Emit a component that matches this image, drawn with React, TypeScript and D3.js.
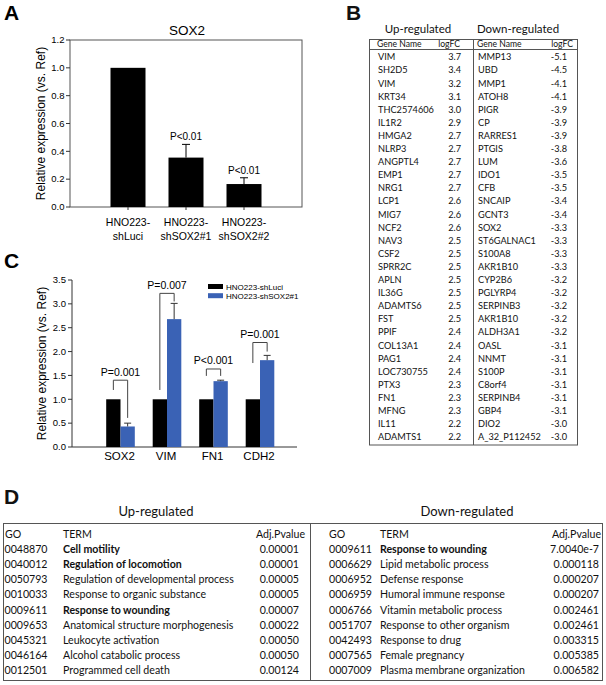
import React from "react";
import * as d3 from "d3";

// ---------- Panel A data ----------
const aSamples = ["shLuci", "shSOX2#1", "shSOX2#2"];
const aSampleLines = [["HNO223-", "shLuci"], ["HNO223-", "shSOX2#1"], ["HNO223-", "shSOX2#2"]];
const aValues = [1.0, 0.355, 0.165];
const aErrTop = [1.0, 0.45, 0.21];
const aPLabels = ["", "P<0.01", "P<0.01"];
const aTicks = [0, 0.2, 0.4, 0.6, 0.8, 1.0, 1.2];

// ---------- Panel C data ----------
const cGenes = ["SOX2", "VIM", "FN1", "CDH2"];
const cSeries = ["HNO223-shLuci", "HNO223-shSOX2#1"];
const cLuci = [1.0, 1.0, 1.0, 1.0];
const cShSox2 = [0.43, 2.68, 1.38, 1.82];
const cShSox2Err = [0.5, 3.01, 1.4, 1.92];
const cPLabels = ["P=0.001", "P=0.007", "P<0.001", "P=0.001"];
const cBracketTop = [1.4, 3.22, 1.635, 2.19];
const cBracketLeftEnd = [1.195, 1.195, 1.49, 1.76];
const cBracketRightEnd = [0.61, 3.05, 1.49, 2.0];
const cTicks = [0, 0.5, 1.0, 1.5, 2.0, 2.5, 3.0, 3.5];

// ---------- Panel B data ----------
const upGenes = ["VIM", "SH2D5", "VIM", "KRT34", "THC2574606", "IL1R2", "HMGA2", "NLRP3", "ANGPTL4", "EMP1", "NRG1", "LCP1", "MIG7", "NCF2", "NAV3", "CSF2", "SPRR2C", "APLN", "IL36G", "ADAMTS6", "FST", "PPIF", "COL13A1", "PAG1", "LOC730755", "PTX3", "FN1", "MFNG", "IL11", "ADAMTS1"];
const upLogFC = ["3.7", "3.4", "3.2", "3.1", "3.0", "2.9", "2.7", "2.7", "2.7", "2.7", "2.7", "2.6", "2.6", "2.6", "2.5", "2.5", "2.5", "2.5", "2.5", "2.5", "2.5", "2.4", "2.4", "2.4", "2.4", "2.3", "2.3", "2.3", "2.2", "2.2"];
const downGenes = ["MMP13", "UBD", "MMP1", "ATOH8", "PIGR", "CP", "RARRES1", "PTGIS", "LUM", "IDO1", "CFB", "SNCAIP", "GCNT3", "SOX2", "ST6GALNAC1", "S100A8", "AKR1B10", "CYP2B6", "PGLYRP4", "SERPINB3", "AKR1B10", "ALDH3A1", "OASL", "NNMT", "S100P", "C8orf4", "SERPINB4", "GBP4", "DIO2", "A_32_P112452"];
const downLogFC = ["-5.1", "-4.5", "-4.1", "-4.1", "-3.9", "-3.9", "-3.9", "-3.8", "-3.6", "-3.5", "-3.5", "-3.4", "-3.4", "-3.3", "-3.3", "-3.3", "-3.3", "-3.2", "-3.2", "-3.2", "-3.2", "-3.2", "-3.1", "-3.1", "-3.1", "-3.1", "-3.1", "-3.1", "-3.0", "-3.0"];

// ---------- Panel D data ----------
const goUpIds = ["0048870", "0040012", "0050793", "0010033", "0009611", "0009653", "0045321", "0046164", "0012501"];
const goUpTerms = ["Cell motility", "Regulation of locomotion", "Regulation of developmental process", "Response to organic substance", "Response to wounding", "Anatomical structure morphogenesis", "Leukocyte activation", "Alcohol catabolic process", "Programmed cell death"];
const goUpP = ["0.00001", "0.00001", "0.00005", "0.00005", "0.00007", "0.00022", "0.00050", "0.00050", "0.00124"];
const goUpBold = [true, true, false, false, true, false, false, false, false];
const goDownIds = ["0009611", "0006629", "0006952", "0006959", "0006766", "0051707", "0042493", "0007565", "0007009"];
const goDownTerms = ["Response to wounding", "Lipid metabolic process", "Defense response", "Humoral immune response", "Vitamin metabolic process", "Response to other organism", "Response to drug", "Female pregnancy", "Plasma membrane organization"];
const goDownP = ["7.0040e-7", "0.000118", "0.000207", "0.000207", "0.002461", "0.002461", "0.003315", "0.005385", "0.006582"];
const goDownBold = [true, false, false, false, false, false, false, false, false];

const ARIAL = "'Liberation Sans', Arial, sans-serif";
const CAL = "Lato, 'Open Sans', sans-serif";
const BLUE = "#3a62b5";

function PanelA() {
  const y = d3.scaleLinear().domain([0, 1.2]).range([207, 40]);
  const x = d3.scalePoint<string>().domain(aSamples).range([70, 302]).padding(1);
  const bw = 35;
  return (
    <g fontFamily={ARIAL}>
      <text x={4} y={20} fontSize={21} fontWeight="bold">A</text>
      <text x={187} y={35} fontSize={13.5} textAnchor="middle">SOX2</text>
      <rect x={70} y={40} width={232} height={167} fill="none" stroke="#555" strokeWidth={1} />
      {aTicks.map((t) => (
        <g key={t}>
          <line x1={66} x2={70} y1={y(t)} y2={y(t)} stroke="#333" />
          <text x={64.5} y={y(t)} dy="0.35em" fontSize={9.5} textAnchor="end">{t.toFixed(1)}</text>
        </g>
      ))}
      <text transform={`translate(45,${(y(0) + y(1.2)) / 2}) rotate(-90)`} fontSize={12} textAnchor="middle">Relative expression (vs. Ref)</text>
      {aSamples.map((s, i) => {
        const cx = x(s)!;
        return (
          <g key={s}>
            <rect x={cx - bw / 2} y={y(aValues[i])} width={bw} height={y(0) - y(aValues[i])} fill="#000" />
            {aErrTop[i] > aValues[i] && (
              <g stroke="#000" strokeWidth={1}>
                <line x1={cx} x2={cx} y1={y(aValues[i])} y2={y(aErrTop[i])} />
                <line x1={cx - 4} x2={cx + 4} y1={y(aErrTop[i])} y2={y(aErrTop[i])} />
              </g>
            )}
            {aPLabels[i] && (
              <text x={cx} y={y(aErrTop[i]) - 4} fontSize={10} textAnchor="middle">{aPLabels[i]}</text>
            )}
            <line x1={cx} x2={cx} y1={207} y2={210} stroke="#333" />
            <text x={cx} y={226} fontSize={10.5} textAnchor="middle">{aSampleLines[i][0]}</text>
            <text x={cx} y={240} fontSize={10.5} textAnchor="middle">{aSampleLines[i][1]}</text>
          </g>
        );
      })}
    </g>
  );
}

function PanelC() {
  const y = d3.scaleLinear().domain([0, 3.5]).range([447, 280]);
  const x = d3.scaleBand<string>().domain(cGenes).range([97.25, 283.25]);
  const bw = 14.3;
  return (
    <g fontFamily={ARIAL}>
      <text x={4} y={268} fontSize={21} fontWeight="bold">C</text>
      <line x1={72} x2={72} y1={280} y2={447} stroke="#333" />
      <line x1={72} x2={297} y1={447} y2={447} stroke="#333" />
      {cTicks.map((t) => (
        <g key={t}>
          <line x1={68} x2={72} y1={y(t)} y2={y(t)} stroke="#333" />
          <text x={66} y={y(t)} dy="0.35em" fontSize={9.5} textAnchor="end">{t.toFixed(1)}</text>
        </g>
      ))}
      <text transform={`translate(46,${(y(0) + y(3.5)) / 2}) rotate(-90)`} fontSize={12} textAnchor="middle">Relative expression (vs. Ref)</text>
      {cGenes.map((g, i) => {
        const cx = x(g)! + x.bandwidth() / 2;
        const lx = cx - bw / 2;
        const rx = cx + bw / 2;
        return (
          <g key={g}>
            <rect x={cx - bw} y={y(cLuci[i])} width={bw} height={y(0) - y(cLuci[i])} fill="#000" />
            <rect x={cx} y={y(cShSox2[i])} width={bw} height={y(0) - y(cShSox2[i])} fill={BLUE} />
            <g stroke="#333" strokeWidth={1}>
              <line x1={rx} x2={rx} y1={y(cShSox2[i])} y2={y(cShSox2Err[i])} />
              <line x1={rx - 3.5} x2={rx + 3.5} y1={y(cShSox2Err[i])} y2={y(cShSox2Err[i])} />
            </g>
            <path
              d={`M${lx},${y(cBracketLeftEnd[i])}V${y(cBracketTop[i])}H${rx}V${y(cBracketRightEnd[i])}`}
              fill="none"
              stroke="#444"
              strokeWidth={1}
            />
            <text x={cx} y={y(cBracketTop[i]) - 4.5} fontSize={10.5} textAnchor="middle">{cPLabels[i]}</text>
            <text x={cx - 1} y={460} fontSize={11.5} textAnchor="middle">{g}</text>
          </g>
        );
      })}
      {cSeries.map((s, i) => (
        <g key={s}>
          <rect x={208} y={284 + i * 9.2} width={15} height={5} fill={i === 0 ? "#000" : BLUE} />
          <text x={226} y={289.8 + i * 9.2} fontSize={8}>{s}</text>
        </g>
      ))}
    </g>
  );
}

function PanelB() {
  const rowY = (i: number) => 57 + i * 13.1;
  return (
    <g fontFamily={CAL} fill="#111">
      <text x={346} y={20} fontSize={21} fontWeight="bold" fontFamily={ARIAL}>B</text>
      <text x={418} y={33} fontSize={11.5} textAnchor="middle">Up-regulated</text>
      <text x={518} y={33} fontSize={11.5} textAnchor="middle">Down-regulated</text>
      <rect x={369.5} y={39.5} width={208} height={405.5} fill="none" stroke="#555" />
      <line x1={473.5} x2={473.5} y1={39.5} y2={445} stroke="#555" />
      <line x1={369.5} x2={577.5} y1={49.5} y2={49.5} stroke="#555" />
      <text x={377} y={47.3} fontSize={8.6}>Gene Name</text>
      <text x={460} y={47.3} fontSize={8.6} textAnchor="end">logFC</text>
      <text x={477} y={47.3} fontSize={8.6}>Gene Name</text>
      <text x={573} y={47.3} fontSize={8.6} textAnchor="end">logFC</text>
      {upGenes.map((g, i) => (
        <g key={"u" + i} fontSize={9.2}>
          <text x={378} y={rowY(i) + 3.3}>{g}</text>
          <text x={461} y={rowY(i) + 3.3} textAnchor="end">{upLogFC[i]}</text>
        </g>
      ))}
      {downGenes.map((g, i) => (
        <g key={"d" + i} fontSize={9.2}>
          <text x={478} y={rowY(i) + 3.3}>{g}</text>
          <text x={567} y={rowY(i) + 3.3} textAnchor="end">{downLogFC[i]}</text>
        </g>
      ))}
    </g>
  );
}

function PanelD() {
  const rowY = (i: number) => 549 + i * 15.2;
  const fs = 10.6;
  return (
    <g fontFamily={CAL} fill="#111">
      <text x={4} y={504} fontSize={21} fontWeight="bold" fontFamily={ARIAL}>D</text>
      <text x={156} y={516} fontSize={13} textAnchor="middle">Up-regulated</text>
      <text x={467} y={516} fontSize={13} textAnchor="middle">Down-regulated</text>
      <rect x={3.5} y={523.5} width={599} height={157} fill="none" stroke="#555" />
      <line x1={310.5} x2={310.5} y1={523.5} y2={680.5} stroke="#555" />
      <text x={5} y={537.8} fontSize={fs}>GO</text>
      <text x={63} y={537.8} fontSize={fs}>TERM</text>
      <text x={305} y={537.8} fontSize={fs} textAnchor="end">Adj.Pvalue</text>
      <text x={329} y={537.8} fontSize={fs}>GO</text>
      <text x={380} y={537.8} fontSize={fs}>TERM</text>
      <text x={601} y={537.8} fontSize={fs} textAnchor="end">Adj.Pvalue</text>
      {goUpIds.map((id, i) => (
        <g key={"gu" + i} fontSize={fs}>
          <text x={4.5} y={rowY(i) + 3.8}>{id}</text>
          <text x={63} y={rowY(i) + 3.8} fontWeight={goUpBold[i] ? "bold" : "normal"}>{goUpTerms[i]}</text>
          <text x={299} y={rowY(i) + 3.8} textAnchor="end">{goUpP[i]}</text>
        </g>
      ))}
      {goDownIds.map((id, i) => (
        <g key={"gd" + i} fontSize={fs}>
          <text x={329} y={rowY(i) + 3.8}>{id}</text>
          <text x={380} y={rowY(i) + 3.8} fontWeight={goDownBold[i] ? "bold" : "normal"}>{goDownTerms[i]}</text>
          <text x={599} y={rowY(i) + 3.8} textAnchor="end">{goDownP[i]}</text>
        </g>
      ))}
    </g>
  );
}

export default function App() {
  return (
    <svg
      width={606}
      height={685}
      viewBox="0 0 606 685"
      style={{ position: "absolute", left: 0, top: 0, background: "#fff" }}
    >
      <rect width={606} height={685} fill="#fff" />
      <PanelA />
      <PanelB />
      <PanelC />
      <PanelD />
    </svg>
  );
}
